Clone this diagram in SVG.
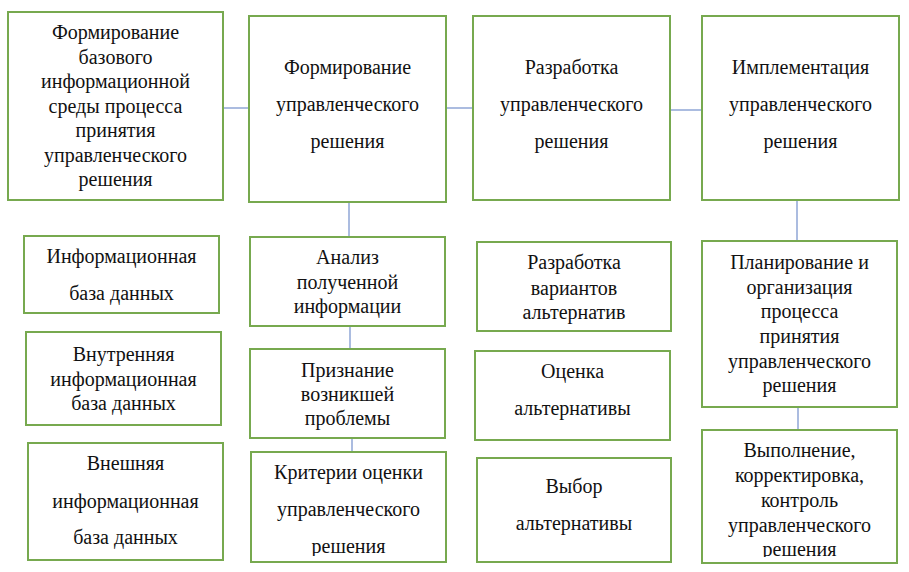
<svg xmlns="http://www.w3.org/2000/svg" width="909" height="572" viewBox="0 0 909 572">
<style>
.b{fill:#fff;stroke:#77A94F;stroke-width:2}
.c{stroke:#8FA6D6;stroke-width:1.5;fill:none}
.t text{font-family:"Liberation Serif","DejaVu Serif","Noto Serif",Tinos,FreeSerif,"Nimbus Roman",serif;font-size:20px;fill:#111;text-anchor:middle}
</style>
<defs>
<clipPath id="clipK"><rect x="250" y="450" width="200" height="106"/></clipPath>
<clipPath id="clipV"><rect x="700" y="428" width="200" height="129"/></clipPath>
</defs>
<rect width="909" height="572" fill="#fff"/>
<g id="connectors">
<line class="c" x1="224" y1="108" x2="249" y2="108"/>
<line class="c" x1="446" y1="108" x2="473" y2="108"/>
<line class="c" x1="670" y1="110" x2="702" y2="110"/>
<line class="c" x1="349" y1="202" x2="349" y2="237"/>
<line class="c" x1="350" y1="326" x2="350" y2="349"/>
<line class="c" x1="352" y1="438" x2="352" y2="452"/>
<line class="c" x1="797" y1="200" x2="797" y2="241"/>
<line class="c" x1="798" y1="407" x2="798" y2="430"/>
</g>
<g class="t">
<g id="n1">
<rect class="b" x="8" y="12" width="215" height="188"/>
<text x="115.5" y="39">Формирование</text>
<text x="115.5" y="64">базового</text>
<text x="115.5" y="88">информационной</text>
<text x="115.5" y="113">среды процесса</text>
<text x="115.5" y="137">принятия</text>
<text x="115.5" y="162">управленческого</text>
<text x="115.5" y="186">решения</text>
</g>
<g id="n2">
<rect class="b" x="249" y="16" width="197" height="186"/>
<text x="347.5" y="74">Формирование</text>
<text x="347.5" y="111">управленческого</text>
<text x="347.5" y="148">решения</text>
</g>
<g id="n3">
<rect class="b" x="473" y="16" width="197" height="184"/>
<text x="571.5" y="74">Разработка</text>
<text x="571.5" y="111">управленческого</text>
<text x="571.5" y="148">решения</text>
</g>
<g id="n4">
<rect class="b" x="702" y="16" width="197" height="184"/>
<text x="800.5" y="74">Имплементация</text>
<text x="800.5" y="111">управленческого</text>
<text x="800.5" y="148">решения</text>
</g>
<g id="a1">
<rect class="b" x="24" y="236" width="195" height="77"/>
<text x="121.5" y="263">Информационная</text>
<text x="121.5" y="300">база данных</text>
</g>
<g id="a2">
<rect class="b" x="26" y="332" width="195" height="93"/>
<text x="123.5" y="361">Внутренняя</text>
<text x="123.5" y="386">информационная</text>
<text x="123.5" y="410">база данных</text>
</g>
<g id="a3">
<rect class="b" x="28" y="443" width="195" height="117"/>
<text x="125.5" y="470">Внешняя</text>
<text x="125.5" y="508">информационная</text>
<text x="125.5" y="544">база данных</text>
</g>
<g id="b1">
<rect class="b" x="250" y="237" width="195" height="89"/>
<text x="347.5" y="264">Анализ</text>
<text x="347.5" y="289">полученной</text>
<text x="347.5" y="313">информации</text>
</g>
<g id="b2">
<rect class="b" x="250" y="349" width="195" height="89"/>
<text x="347.5" y="377">Признание</text>
<text x="347.5" y="401">возникшей</text>
<text x="347.5" y="425">проблемы</text>
</g>
<g id="b3">
<rect class="b" x="251" y="452" width="195" height="110"/>
<g clip-path="url(#clipK)">
<text x="348.5" y="479">Критерии оценки</text>
<text x="348.5" y="516">управленческого</text>
<text x="348.5" y="553">решения</text>
</g>
</g>
<g id="c1">
<rect class="b" x="477" y="242" width="194" height="89"/>
<text x="574" y="269">Разработка</text>
<text x="574" y="295">вариантов</text>
<text x="574" y="319">альтернатив</text>
</g>
<g id="c2">
<rect class="b" x="475" y="351" width="195" height="89"/>
<text x="572.5" y="378">Оценка</text>
<text x="572.5" y="415">альтернативы</text>
</g>
<g id="c3">
<rect class="b" x="477" y="458" width="194" height="104"/>
<text x="574" y="493">Выбор</text>
<text x="574" y="530">альтернативы</text>
</g>
<g id="d1">
<rect class="b" x="702" y="241" width="195" height="166"/>
<text x="799.5" y="269">Планирование и</text>
<text x="799.5" y="294">организация</text>
<text x="799.5" y="318">процесса</text>
<text x="799.5" y="343">принятия</text>
<text x="799.5" y="368">управленческого</text>
<text x="799.5" y="392">решения</text>
</g>
<g id="d2">
<rect class="b" x="702" y="430" width="195" height="133"/>
<g clip-path="url(#clipV)">
<text x="799.5" y="457">Выполнение,</text>
<text x="799.5" y="482">корректировка,</text>
<text x="799.5" y="507">контроль</text>
<text x="799.5" y="532">управленческого</text>
<text x="799.5" y="556">решения</text>
</g>
</g>
</g>
</svg>
